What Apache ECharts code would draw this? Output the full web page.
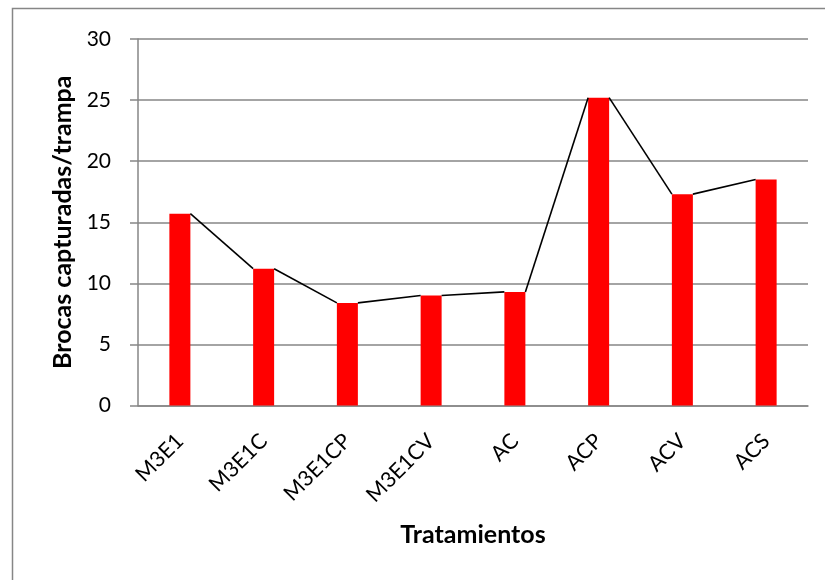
<!DOCTYPE html>
<html>
<head>
<meta charset="utf-8">
<script src="https://cdn.jsdelivr.net/npm/echarts@6/dist/echarts.min.js"></script>
<style>html,body{margin:0;padding:0;background:#fff}#c{width:825px;height:580px}</style>
</head>
<body>
<div id="c"></div>
<script>
const categories = ['M3E1', 'M3E1C', 'M3E1CP', 'M3E1CV', 'AC', 'ACP', 'ACV', 'ACS'];
const values = [15.7, 11.2, 8.4, 9.0, 9.3, 25.2, 17.3, 18.5];
const yTicks = [0, 5, 10, 15, 20, 25, 30];
const yTitle = 'Brocas capturadas/trampa';
const xTitle = 'Tratamientos';

const BAR_W = 21;
const FONT = 'Lato, "Liberation Sans", sans-serif';
const lineData = values.map((v, i) => [i, v, i + 1 < values.length ? values[i + 1] : null]);

const chart = echarts.init(document.getElementById('c'), null, {renderer: 'canvas'});
chart.setOption({
  animation: false,
  backgroundColor: '#fff',
  grid: {left: 138, right: 17, top: 39, bottom: 174.5, containLabel: false},
  graphic: [{
    type: 'rect', silent: true, z: -1,
    shape: {x: 12.5, y: 8.5, width: 900, height: 700},
    style: {fill: 'none', stroke: '#868686', lineWidth: 1.5}
  }],
  xAxis: {
    type: 'category',
    data: categories,
    name: xTitle,
    nameLocation: 'middle',
    nameGap: 117,
    nameTextStyle: {fontFamily: FONT, fontSize: 25, fontWeight: 'bold', color: '#000'},
    axisLine: {lineStyle: {color: '#868686', width: 1.5}},
    axisTick: {show: false},
    axisLabel: {rotate: 45, fontFamily: FONT, fontSize: 21.5, color: '#000', margin: 32, interval: 0},
    splitLine: {show: false}
  },
  yAxis: {
    type: 'value',
    min: yTicks[0],
    max: yTicks[yTicks.length - 1],
    interval: yTicks[1] - yTicks[0],
    name: yTitle,
    nameLocation: 'middle',
    nameGap: 61,
    nameRotate: 90,
    nameTextStyle: {fontFamily: FONT, fontSize: 25, fontWeight: 'bold', color: '#000'},
    axisLine: {show: true, lineStyle: {color: '#868686', width: 1.5}},
    axisTick: {show: true, length: 8, lineStyle: {color: '#868686', width: 1.5}},
    axisLabel: {fontFamily: FONT, fontSize: 21, color: '#000', margin: 27},
    splitLine: {lineStyle: {color: '#868686', width: 1.5}}
  },
  series: [{
    type: 'bar',
    data: values,
    barWidth: BAR_W,
    itemStyle: {color: '#ff0000'},
    z: 2
  }, {
    type: 'custom',
    data: lineData,
    encode: {x: 0, y: 1},
    z: 3,
    renderItem: function (params, api) {
      const i = api.value(0);
      const v = api.value(1);
      const vn = api.value(2);
      if (vn === null || isNaN(vn)) return null;
      const p1 = api.coord([i, v]);
      const p2 = api.coord([i + 1, vn]);
      const hw = BAR_W / 2;
      return {
        type: 'line',
        shape: {x1: p1[0] + hw, y1: p1[1], x2: p2[0] - hw, y2: p2[1]},
        style: {stroke: '#000', lineWidth: 1.6}
      };
    }
  }]
});
</script>
</body>
</html>
